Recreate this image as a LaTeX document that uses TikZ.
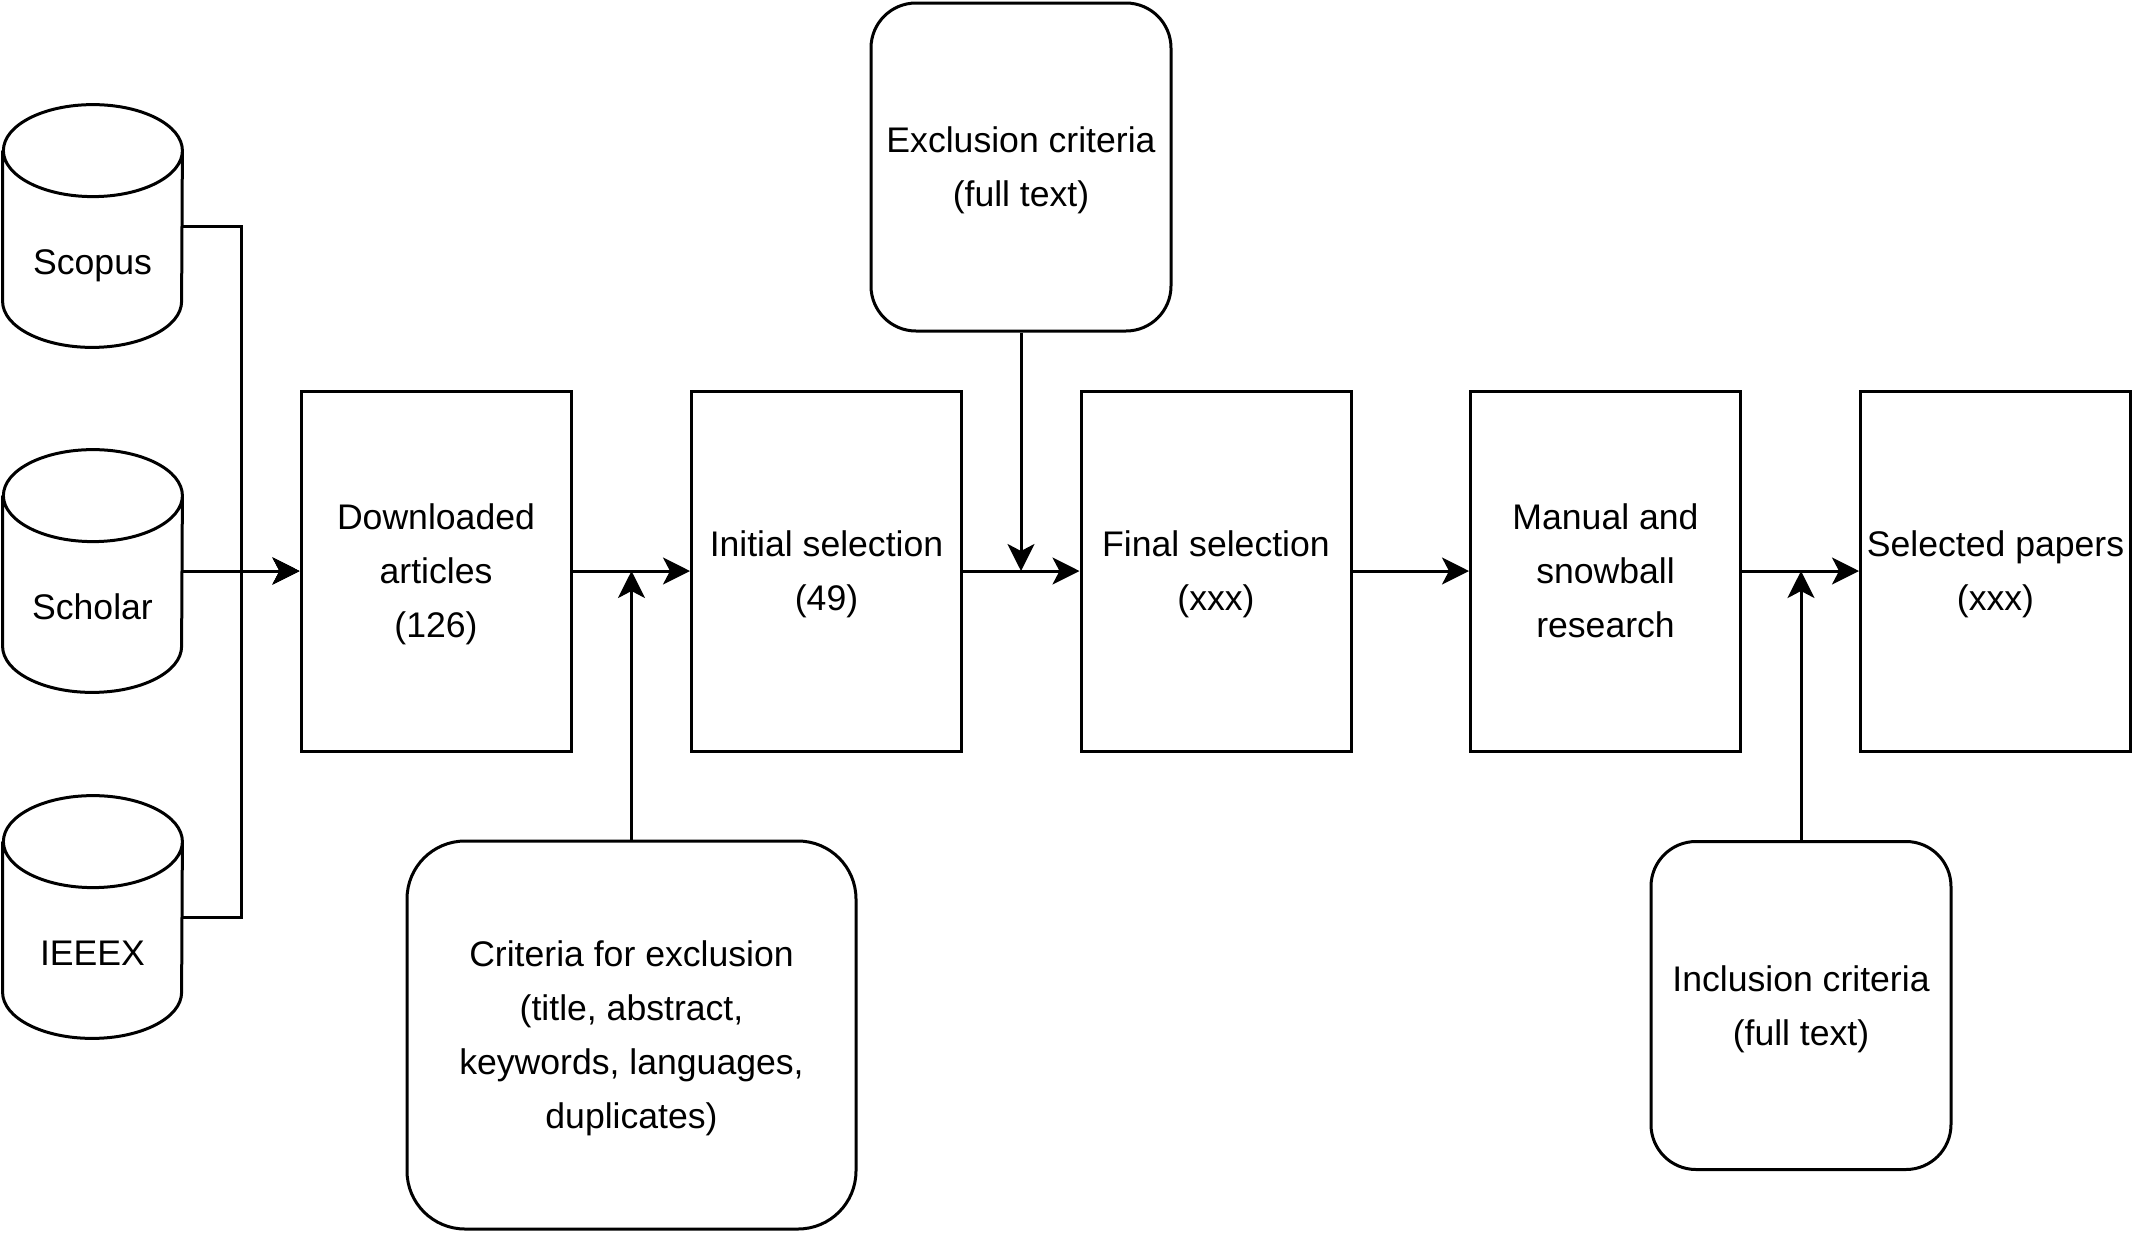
\documentclass[tikz,border=0pt]{standalone}
\usepackage{fontspec}
\setmainfont{Liberation Sans}
\usetikzlibrary{arrows.meta}
\newcommand\diafont{\fontsize{17.8pt}{27pt}\selectfont}
\newcommand\dbcyl[1]{%
  \draw[ln] ([yshift=-23pt]#1.north west) -- ([yshift=23pt]#1.south west)
    arc[start angle=180,end angle=360,x radius=44.75pt,y radius=23pt]
    -- ([yshift=-23pt]#1.north east)
    arc[start angle=0,end angle=360,x radius=44.75pt,y radius=23pt];}
\tikzset{
  ln/.style={line width=1.5pt, draw=black},
  arr/.style={ln, -{Stealth[length=13.5pt,width=13.5pt,inset=3.5pt]}},
  stepbox/.style={ln, rectangle, minimum width=135pt, minimum height=180pt,
    align=center, font=\diafont, inner sep=0pt, text depth=0pt},
  critbox/.style={ln, rectangle, rounded corners=22.5pt, minimum width=150pt,
    minimum height=164pt, align=center, font=\diafont, inner sep=0pt, text depth=0pt},
  db/.style={rectangle, minimum width=89.5pt, minimum height=121pt, inner sep=0pt},
  dblabel/.style={font=\diafont, yshift=-18pt, text depth=0pt},
}
\begin{document}
\begin{tikzpicture}[x=0.5pt,y=-0.5pt]
\useasboundingbox (0,0) rectangle (2133,1233);
% databases
\node[db, label={[dblabel]center:Scopus}] (scopus) at (92.5,226) {};
\node[db, label={[dblabel]center:Scholar}] (scholar) at (92.5,571) {};
\node[db, label={[dblabel]center:IEEEX}] (ieeex) at (92.5,917) {};
\dbcyl{scopus}
\dbcyl{scholar}
\dbcyl{ieeex}
% process boxes
\node[stepbox] (dl) at (436,571) {Downloaded\\articles\\(126)};
\node[stepbox] (init) at (826.5,571) {Initial selection\\(49)};
\node[stepbox] (final) at (1216,571) {Final selection\\(xxx)};
\node[stepbox] (manual) at (1605.5,571) {Manual and\\snowball\\research};
\node[stepbox] (sel) at (1995.5,571) {Selected papers\\(xxx)};
% criteria boxes
\node[critbox] (excl) at (1021,167) {Exclusion criteria\\(full text)};
\node[critbox, rounded corners=29pt, minimum width=224.5pt, minimum height=194pt]
  (crit) at (631.5,1035) {Criteria for exclusion\\(title, abstract,\\keywords, languages,\\duplicates)};
\node[critbox] (incl) at (1801,1005.5) {Inclusion criteria\\(full text)};
% connectors
\coordinate (jn) at (241,571);
\draw[arr] (scopus.east) -| (jn) -- (dl.west);
\draw[arr] (ieeex.east) -| (jn) -- (dl.west);
\draw[arr] (scholar.east) -- (dl.west);
\draw[arr] (dl.east) -- (init.west);
\draw[arr] (crit.north) -- (crit.north |- init.west);
\draw[arr] (init.east) -- (final.west);
\draw[arr] (excl.south) -- (excl.south |- final.west);
\draw[arr] (final.east) -- (manual.west);
\draw[arr] (manual.east) -- (sel.west);
\draw[arr] (incl.north) -- (incl.north |- sel.west);
\end{tikzpicture}
\end{document}
